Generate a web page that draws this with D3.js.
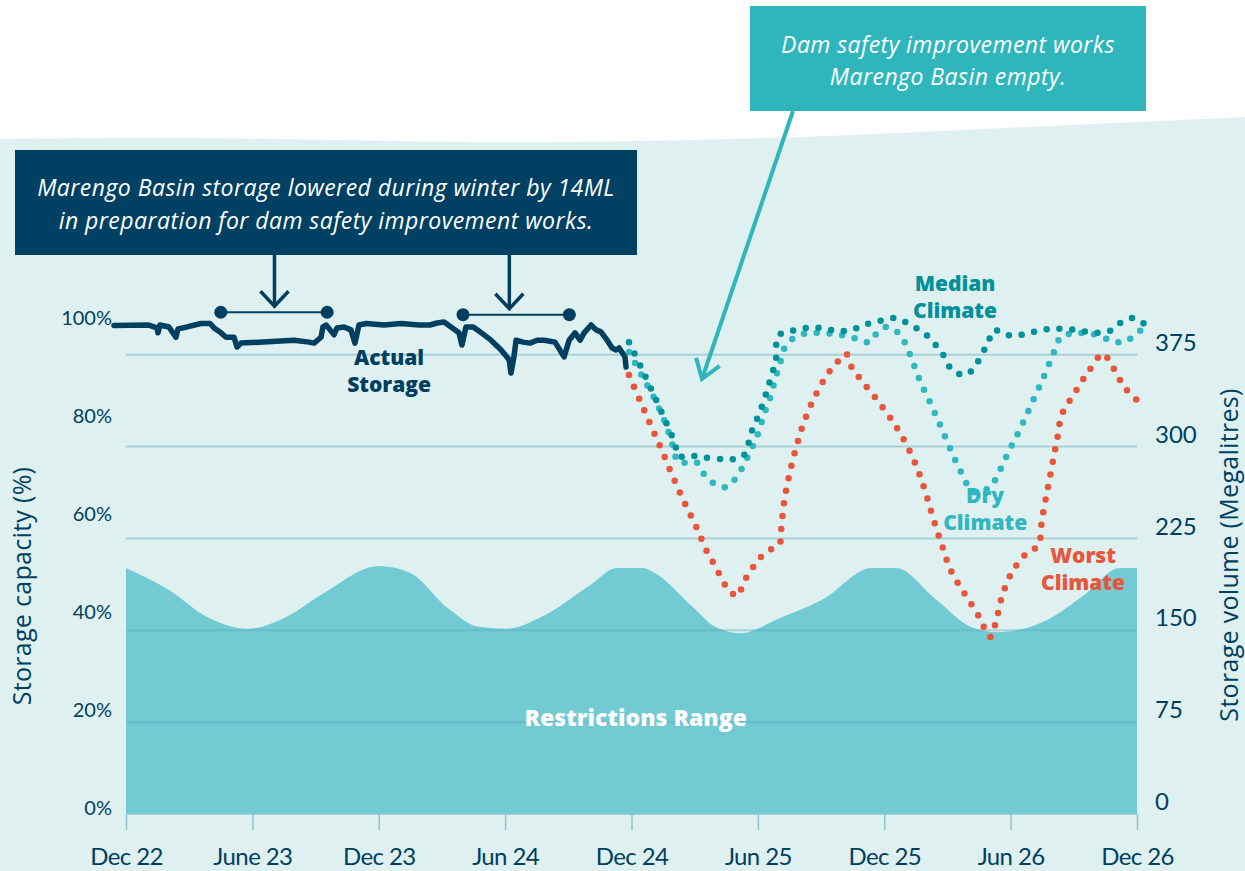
<!DOCTYPE html>
<html lang="en">
<head>
    <meta charset="utf-8" />
    <title>Marengo Basin storage outlook</title>
    <script src="https://d3js.org/d3.v7.min.js"></script>
    <style>
        body { margin: 0; background: #ffffff; }
        text { font-family: Lato, "Open Sans", sans-serif; }
        .label { font-family: "Open Sans", Lato, sans-serif; font-weight: 800; }
        .note { font-family: "Open Sans", Lato, sans-serif; font-style: italic; letter-spacing: 0.45px; }
        .title { font-family: "Open Sans", Lato, sans-serif; font-weight: 500; letter-spacing: 0.3px; }
    </style>
</head>
<body>
    <svg id="chart" width="1245" height="871"></svg>
    <script>
        const svg = d3.select("#chart");

        const navy = "#003f5f";
        const colors = { median: "#00919a", dry: "#2fb8bf", worst: "#e8553a" };
        const restrictColor = "#72cad3";

        // x is months after Dec 22, y is storage capacity in %
        // (100% = 400 ML so the right axis shares the same pixels)
        const x = d3.scaleLinear().domain([0, 48]).range([126, 1137]);
        const yPct = d3.scaleLinear().domain([0, 100]).range([814, 324]);
        const yML = d3.scaleLinear().domain([0, 400]).range([814, 324]);

        // Actual storage [month, %]
        const actual = [
            [-0.57, 99.7], [1.04, 99.8], [1.47, 99.2], [1.52, 98.2], [1.61, 99.8], [2.04, 99.4],
            [2.37, 97.3], [2.47, 99.0], [2.9, 99.4], [3.56, 100.1], [3.99, 100.1], [4.18, 99.2],
            [4.51, 98.2], [4.75, 97.3], [5.13, 97.3], [5.27, 95.3], [5.46, 96.1], [6.32, 96.3],
            [7.98, 96.7], [8.69, 96.3], [8.93, 96.1], [9.26, 97.3], [9.35, 99.4], [9.5, 99.8],
            [9.69, 98.8], [9.88, 97.8], [10.02, 99.2], [10.35, 99.4], [10.68, 98.8], [10.87, 96.1],
            [11.06, 99.8], [11.4, 100.1], [12.25, 99.8], [13.06, 100.1], [13.91, 99.8], [14.43, 99.8],
            [14.77, 100.2], [15.1, 100.4], [15.43, 99.4], [15.81, 98.2], [15.95, 95.7], [16.14, 99.4],
            [16.48, 99.4], [16.81, 98.4], [17.33, 96.7], [17.81, 94.7], [18.19, 92.7], [18.28, 90.0],
            [18.42, 93.3], [18.52, 96.7], [18.85, 96.3], [19.18, 96.1], [19.52, 96.7], [19.85, 96.7],
            [20.37, 96.3], [20.8, 93.3], [21.04, 96.7], [21.32, 98.2], [21.56, 96.7], [21.75, 98.2],
            [22.08, 99.8], [22.32, 98.8], [22.55, 98.4], [22.84, 96.7], [23.08, 95.1], [23.27, 94.7],
            [23.41, 95.1], [23.69, 93.3], [23.74, 91.2]
        ];

        // Forecasts [month, %]
        const forecasts = {
            worst: [
                [23.88, 89.6], [24.41, 84.3], [24.93, 79.2], [25.45, 74.1], [25.97, 68.8], [26.5, 63.7],
                [27.07, 58.6], [27.59, 53.5], [27.92, 51.0], [28.21, 48.6], [28.54, 46.1], [28.82, 44.9],
                [29.06, 44.5], [29.3, 47.1], [29.63, 49.4], [30.01, 51.8], [30.48, 53.7], [31.01, 54.9],
                [31.1, 57.8], [31.24, 63.5], [31.48, 69.0], [31.81, 74.7], [32.19, 80.0], [32.72, 85.3],
                [33.38, 90.2], [33.81, 92.4], [34.19, 93.9], [34.47, 91.0], [34.9, 88.6], [35.66, 84.5],
                [36.42, 80.0], [37.04, 75.5], [37.56, 70.6], [37.94, 65.9], [38.32, 60.4], [38.75, 54.7],
                [39.17, 49.6], [39.79, 45.1], [40.46, 40.6], [41.03, 36.1], [41.31, 39.4], [41.6, 44.5],
                [42.07, 49.4], [42.83, 53.5], [43.3, 54.7], [43.49, 60.2], [43.73, 65.7], [43.97, 71.2],
                [44.21, 76.5], [44.44, 81.6], [45.01, 85.7], [45.68, 90.2], [46.39, 93.9], [46.77, 91.8],
                [47.44, 86.9], [48.34, 83.1]
            ],
            dry: [
                [23.88, 94.3], [24.5, 89.4], [25.12, 84.5], [25.64, 79.4], [26.02, 74.3], [26.21, 71.8],
                [27.07, 71.8], [27.4, 69.6], [27.87, 67.6], [28.49, 66.7], [28.96, 68.6], [29.3, 71.0],
                [29.58, 73.5], [29.87, 76.1], [30.1, 78.8], [30.29, 81.6], [30.53, 84.3], [30.72, 87.1],
                [30.91, 90.0], [31.1, 92.7], [31.24, 94.9], [31.62, 96.9], [32.19, 98.0], [32.86, 98.2],
                [33.52, 98.0], [34.14, 97.6], [34.76, 96.9], [35.33, 96.3], [35.66, 98.2], [36.13, 99.4],
                [36.66, 98.2], [36.99, 96.1], [37.23, 93.7], [37.7, 88.4], [38.27, 83.1], [38.79, 78.0],
                [39.32, 72.7], [39.6, 70.2], [39.89, 67.6], [40.22, 65.7], [41.03, 66.7], [41.36, 69.0],
                [41.88, 73.7], [42.45, 78.6], [42.97, 83.5], [43.49, 88.4], [43.97, 93.3], [44.44, 97.6],
                [45.06, 98.0], [45.68, 98.2], [46.34, 97.3], [46.87, 96.5], [47.39, 96.3], [47.91, 97.8],
                [48.43, 99.6]
            ],
            median: [
                [23.88, 96.3], [24.45, 91.2], [25.02, 85.9], [25.55, 80.8], [26.07, 75.5], [26.21, 73.1],
                [26.78, 73.1], [29.25, 72.9], [29.68, 77.8], [30.15, 82.7], [30.53, 87.8], [30.86, 92.9],
                [30.96, 97.6], [31.62, 98.6], [32.34, 99.2], [33.05, 99.2], [33.71, 98.6], [34.43, 98.8],
                [35.04, 99.8], [35.76, 100.6], [36.47, 101.2], [36.99, 100.4], [37.51, 99.2], [37.99, 97.8],
                [38.41, 95.9], [38.75, 94.1], [38.98, 92.0], [39.36, 90.2], [39.89, 89.6], [40.31, 91.4],
                [40.65, 93.9], [40.93, 96.3], [41.22, 98.8], [41.64, 98.0], [42.17, 97.6], [42.74, 98.0],
                [43.3, 98.6], [43.92, 99.0], [44.49, 99.0], [45.11, 98.8], [45.63, 98.4], [46.15, 98.2],
                [46.72, 98.6], [47.2, 100.2], [47.86, 101.2], [48.58, 99.2]
            ]
        };

        // Upper edge of the restrictions range [month, %]
        const restrictions = [
            [0, 50.2], [2.04, 45.7], [3.85, 40.2], [5.79, 37.8], [7.6, 40.2], [9.4, 45.1],
            [12.01, 50.6], [13.49, 49.2], [15.29, 42.0], [16.76, 38.2], [18.09, 37.8], [19.71, 40.2],
            [22.03, 46.7], [23.31, 50.2], [24.55, 50.2], [25.02, 49.4], [26.92, 42.2], [27.97, 38.2],
            [29.15, 36.9], [31.05, 40.0], [33.05, 43.7], [35.42, 50.2], [36.56, 50.2], [38.4, 44.0],
            [40.22, 38.0], [41.36, 37.1], [43.73, 39.6], [45.5, 44.7], [47.2, 50.2], [48, 50.2]
        ];

        // Background panel with a soft wavy top
        const wave = [[0, 139], [220, 137], [460, 143], [720, 141], [960, 130], [1245, 117]];
        svg.append("path")
            .attr("d", d3.line().curve(d3.curveBasis)(wave) + "L1245,871L0,871Z")
            .attr("fill", "#dff0f0");

        // Restrictions area
        const area = d3.area()
            .x(d => x(d[0]))
            .y0(yPct(0))
            .y1(d => yPct(d[1]))
            .curve(d3.curveMonotoneX);
        svg.append("path")
            .datum(restrictions)
            .attr("d", area)
            .attr("fill", restrictColor);

        // Gridlines
        svg.append("g")
            .selectAll("line")
            .data([75, 150, 225, 300, 375])
            .enter()
            .append("line")
            .attr("x1", x(0))
            .attr("x2", x(48))
            .attr("y1", d => yML(d))
            .attr("y2", d => yML(d))
            .attr("stroke", "rgba(95,168,184,0.42)")
            .attr("stroke-width", 2);

        // Bottom axis
        const xLabels = ["Dec 22", "June 23", "Dec 23", "Jun 24", "Dec 24", "Jun 25", "Dec 25", "Jun 26", "Dec 26"];
        const xAxis = svg.append("g")
            .attr("transform", "translate(0," + yPct(0) + ")")
            .call(d3.axisBottom(x)
                .tickValues(d3.range(0, 49, 6))
                .tickFormat((d, i) => xLabels[i])
                .tickSize(16)
                .tickPadding(18));
        xAxis.select(".domain").attr("stroke", "#8cc6cf").attr("stroke-width", 1.5).attr("d", "M" + x(0) + ",0H" + x(48));
        xAxis.selectAll(".tick line").attr("stroke", "#8cc6cf").attr("stroke-width", 1.5);
        xAxis.selectAll("text")
            .attr("fill", navy)
            .style("font-size", "24px")
            .style("letter-spacing", "-0.6px");

        // Left axis (%)
        const leftAxis = svg.append("g")
            .attr("transform", "translate(" + x(0) + ",0)")
            .call(d3.axisLeft(yPct)
                .tickValues([0, 20, 40, 60, 80, 100])
                .tickFormat(d => d + "%")
                .tickSize(0)
                .tickPadding(14));
        leftAxis.select(".domain").remove();
        leftAxis.selectAll("text")
            .attr("y", -6)
            .attr("fill", navy)
            .style("font-size", "20px");

        // Right axis (ML)
        const rightAxis = svg.append("g")
            .attr("transform", "translate(" + x(48) + ",0)")
            .call(d3.axisRight(yML)
                .tickValues([0, 75, 150, 225, 300, 375])
                .tickSize(0)
                .tickPadding(18));
        rightAxis.select(".domain").remove();
        rightAxis.selectAll("text")
            .attr("y", -12)
            .attr("fill", navy)
            .style("font-size", "24px");

        // Axis titles
        svg.append("text")
            .attr("class", "title")
            .attr("transform", "translate(21,586) rotate(-90)")
            .attr("text-anchor", "middle")
            .attr("dominant-baseline", "central")
            .attr("fill", navy)
            .style("font-size", "25px")
            .text("Storage capacity (%)");
        svg.append("text")
            .attr("class", "title")
            .attr("transform", "translate(1228,555) rotate(-90)")
            .attr("text-anchor", "middle")
            .attr("dominant-baseline", "central")
            .attr("fill", navy)
            .style("font-size", "25px")
            .text("Storage volume (Megalitres)");

        svg.append("text")
            .attr("class", "label")
            .attr("x", x(24.2))
            .attr("y", yPct(19.5) + 8)
            .attr("text-anchor", "middle")
            .attr("fill", "#ffffff")
            .style("font-size", "23px")
            .text("Restrictions Range");

        // Forecast dotted lines
        const line = d3.line()
            .x(d => x(d[0]))
            .y(d => yPct(d[1]))
            .curve(d3.curveCatmullRom);

        ["worst", "dry", "median"].forEach(key => {
            svg.append("path")
                .datum(forecasts[key])
                .attr("d", line)
                .attr("fill", "none")
                .attr("stroke", colors[key])
                .attr("stroke-width", 6.5)
                .attr("stroke-linecap", "round")
                .attr("stroke-dasharray", "0 12.8");
        });

        // Actual storage
        svg.append("path")
            .datum(actual)
            .attr("d", d3.line().x(d => x(d[0])).y(d => yPct(d[1])))
            .attr("fill", "none")
            .attr("stroke", navy)
            .attr("stroke-width", 5.5)
            .attr("stroke-linejoin", "round")
            .attr("stroke-linecap", "round");

        // Series labels
        const seriesLabels = [
            { lines: ["Actual", "Storage"], m: 12.49, pct: 91.6, color: navy },
            { lines: ["Median", "Climate"], m: 39.36, pct: 106.8, color: colors.median },
            { lines: ["Dry", "Climate"], m: 40.79, pct: 63.4, color: colors.dry },
            { lines: ["Worst", "Climate"], m: 45.44, pct: 51.3, color: colors.worst }
        ];
        seriesLabels.forEach(l => {
            const t = svg.append("text")
                .attr("class", "label")
                .attr("text-anchor", "middle")
                .attr("fill", l.color)
                .style("font-size", "21px");
            l.lines.forEach((s, i) => {
                t.append("tspan")
                    .attr("x", x(l.m))
                    .attr("y", yPct(l.pct) + i * 27)
                    .text(s);
            });
        });

        // Lowered-storage brackets with arrows
        const brackets = [
            { from: 4.5, to: 9.55, pct: 102.4, arrow: 7.05 },
            { from: 16.0, to: 21.05, pct: 101.9, arrow: 18.2 }
        ];
        brackets.forEach(b => {
            const yb = yPct(b.pct);
            svg.append("line")
                .attr("x1", x(b.from)).attr("x2", x(b.to))
                .attr("y1", yb).attr("y2", yb)
                .attr("stroke", navy).attr("stroke-width", 2);
            svg.selectAll(null)
                .data([b.from, b.to])
                .enter()
                .append("circle")
                .attr("cx", d => x(d))
                .attr("cy", yb)
                .attr("r", 6.5)
                .attr("fill", navy);
            const ax = x(b.arrow), tip = yb - 6;
            svg.append("line")
                .attr("x1", ax).attr("x2", ax)
                .attr("y1", 255).attr("y2", tip)
                .attr("stroke", navy).attr("stroke-width", 3.5);
            svg.append("path")
                .attr("d", "M" + (ax - 14) + "," + (tip - 15) + "L" + ax + "," + tip + "L" + (ax + 14) + "," + (tip - 15))
                .attr("fill", "none")
                .attr("stroke", navy)
                .attr("stroke-width", 3.5);
        });

        // Annotation boxes
        svg.append("rect")
            .attr("x", 15).attr("y", 150)
            .attr("width", 622).attr("height", 105)
            .attr("fill", "#004062");
        svg.append("text")
            .attr("class", "note")
            .attr("text-anchor", "middle")
            .attr("fill", "#ffffff")
            .style("font-size", "23px")
            .selectAll("tspan")
            .data(["Marengo Basin storage lowered during winter by 14ML", "in preparation for dam safety improvement works."])
            .enter()
            .append("tspan")
            .attr("x", 326)
            .attr("y", (d, i) => 196 + i * 33)
            .text(d => d);

        svg.append("rect")
            .attr("x", 750).attr("y", 6)
            .attr("width", 396).attr("height", 105)
            .attr("fill", "#2fb6bd");
        svg.append("text")
            .attr("class", "note")
            .attr("text-anchor", "middle")
            .attr("fill", "#ffffff")
            .style("font-size", "23px")
            .selectAll("tspan")
            .data(["Dam safety improvement works", "Marengo Basin empty."])
            .enter()
            .append("tspan")
            .attr("x", 948)
            .attr("y", (d, i) => 53 + i * 32)
            .text(d => d);

        // Arrow from the teal box down to the empty basin
        const a0 = [793, 111], a1 = [702, 379];
        const ang = Math.atan2(a1[1] - a0[1], a1[0] - a0[0]);
        const head = [ang + Math.PI - 0.6, ang + Math.PI + 0.6].map(t => [a1[0] + 22 * Math.cos(t), a1[1] + 22 * Math.sin(t)]);
        svg.append("line")
            .attr("x1", a0[0]).attr("y1", a0[1])
            .attr("x2", a1[0]).attr("y2", a1[1])
            .attr("stroke", "#2fb6bd").attr("stroke-width", 4);
        svg.append("path")
            .attr("d", "M" + head[0] + "L" + a1 + "L" + head[1])
            .attr("fill", "none")
            .attr("stroke", "#2fb6bd")
            .attr("stroke-width", 4);
    </script>
</body>
</html>
